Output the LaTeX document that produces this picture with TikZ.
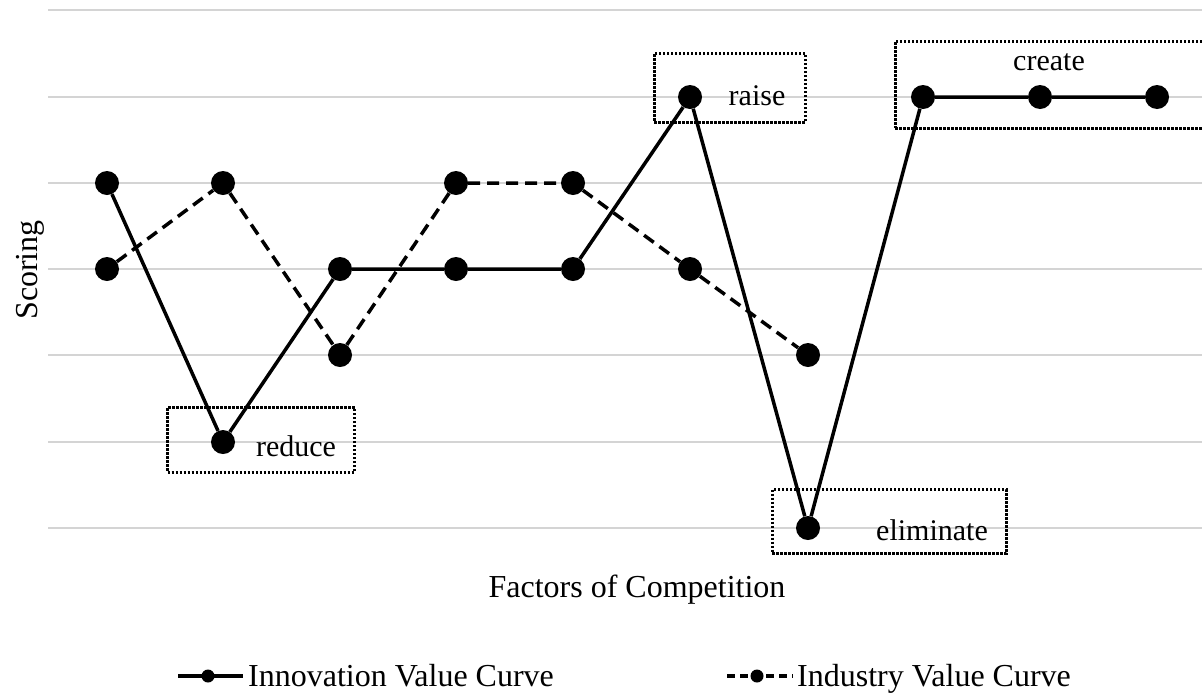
\documentclass[tikz,border=0pt]{standalone}
\usepackage{fontspec}
\setmainfont{Liberation Serif}
\usetikzlibrary{positioning}

\begin{document}
\begin{tikzpicture}[x=1pt,y=-1pt,
        dot/.style={circle,fill=black,inner sep=0pt,minimum size=24pt},
        keydot/.style={circle,fill=black,inner sep=0pt,minimum size=13pt},
        grid/.style={draw=black!17,line width=2.5pt},
        curve/.style={line width=3.5pt},
        ind/.style={curve,dash pattern=on 12pt off 7pt},
        markbox/.style={draw,line width=3pt,dash pattern=on 2.5pt off 1.5pt,inner sep=0pt},
        lbl/.style={font=\fontsize{30}{32}\selectfont},
        axis/.style={font=\fontsize{32}{34}\selectfont}]
        \useasboundingbox (0,0) rectangle (1202,694);
        % grid lines
        \foreach \y in {10,97,183,269,355,442,528}
            \draw[grid] (48,\y) -- (1202,\y);
        % marked regions
        \node[markbox,minimum width=187pt,minimum height=65pt] (b1) at (261,439.5) {};
        \node[markbox,minimum width=151pt,minimum height=69pt] (b2) at (729.5,87.5) {};
        \node[markbox,minimum width=312pt,minimum height=87pt] (b3) at (1051,84.5) {};
        \node[markbox,minimum width=234pt,minimum height=64pt] (b4) at (889,521.5) {};
        \node[lbl] (t1) at (296,446) {reduce};
        \node[lbl] (t2) at (757,96) {raise};
        \node[lbl] (t3) at (1049,62) {create};
        \node[lbl] (t4) at (932,530) {eliminate};
        % innovation value curve
        \node[dot] (i1) at (107,183) {};
        \node[dot] (i2) at (223,442) {};
        \node[dot] (i3) at (340,269) {};
        \node[dot] (i4) at (456,269) {};
        \node[dot] (i5) at (573,269) {};
        \node[dot] (i6) at (690,97) {};
        \node[dot] (i7) at (808,528) {};
        \node[dot] (i8) at (923,97) {};
        \node[dot] (i9) at (1040,97) {};
        \node[dot] (i10) at (1157,97) {};
        % industry value curve
        \node[dot] (n1) at (107,269) {};
        \node[dot] (n2) at (223,183) {};
        \node[dot] (n3) at (340,355) {};
        \node[dot] (n4) at (456,183) {};
        \node[dot] (n5) at (573,183) {};
        \node[dot] (n6) at (690,269) {};
        \node[dot] (n7) at (808,355) {};
        \draw[curve] (i1) -- (i2) -- (i3) -- (i4) -- (i5) -- (i6) -- (i7) -- (i8) -- (i9) -- (i10);
        \draw[ind] (n1) -- (n2) -- (n3) -- (n4) -- (n5) -- (n6) -- (n7);
        % axis titles
        \node[axis,rotate=90] (ya) at (30,270) {Scoring};
        \node[axis] (xa) at (637,590) {Factors of Competition};
        % legend
        \coordinate (k1a) at (178,676);
        \coordinate (k1b) at (243,676);
        \node[keydot] (k1) at (208,676) {};
        \draw[line width=4pt] (k1a) -- (k1b);
        \node[axis,anchor=base west,inner sep=0pt] (k1t) at (248,686) {Innovation Value Curve};
        \coordinate (k2a) at (727,676);
        \coordinate (k2b) at (793,676);
        \node[keydot] (k2) at (757,676) {};
        \draw[line width=4pt,dash pattern=on 8pt off 5pt] (k2a) -- (k2b);
        \node[axis,anchor=base west,inner sep=0pt] (k2t) at (797,686) {Industry Value Curve};
\end{tikzpicture}
\end{document}
